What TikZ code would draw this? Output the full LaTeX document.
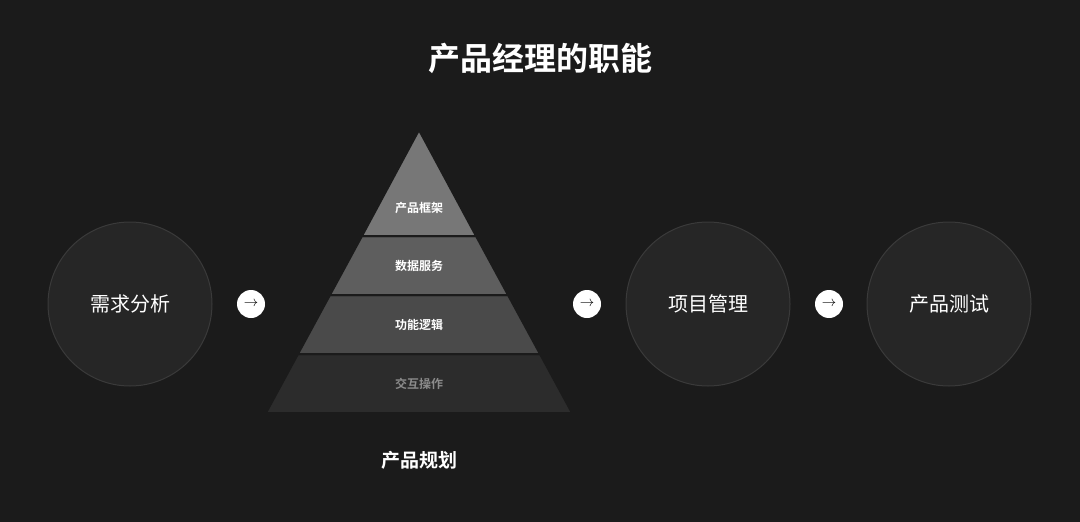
\documentclass[tikz,border=0pt]{standalone}
\usepackage{fontspec}
\setmainfont{Noto Sans CJK SC}
\newfontfamily\cjkbold{Noto Sans CJK SC Bold}
\usetikzlibrary{positioning}
\definecolor{bgdark}{HTML}{1B1B1B}
\definecolor{ringfill}{HTML}{262626}
\definecolor{ringline}{HTML}{3A3A3A}
\definecolor{layerA}{HTML}{777777}
\definecolor{layerB}{HTML}{5E5E5E}
\definecolor{layerC}{HTML}{4A4A4A}
\definecolor{layerD}{HTML}{2C2C2C}
\tikzset{
  stage/.style={circle, minimum size=164pt, inner sep=0pt, fill=ringfill,
    draw=ringline, line width=1pt, text=white, font=\fontsize{20}{24}\selectfont},
  nextdot/.style={circle, minimum size=28pt, inner sep=0pt, fill=white,
    text=black, font=\fontsize{15}{15}\selectfont},
  layertext/.style={text=white, font=\cjkbold\fontsize{12}{14}\selectfont},
  band/.style={draw=bgdark, line width=2pt}
}
\begin{document}
\begin{tikzpicture}[x=1pt, y=-1pt]
  \fill[bgdark] (0,0) rectangle (1080,522);
  \useasboundingbox (0,0) rectangle (1080,522);
  \node[text=white, font=\cjkbold\fontsize{32}{38}\selectfont] (title) at (540,58) {产品经理的职能};
  % circles
  \node[stage] (need) at (130,304) {需求分析};
  \node[stage] (proj) at (708,304) {项目管理};
  \node[stage] (test) at (949,304) {产品测试};
  % pyramid
  \fill[band, fill=layerD] (266,413) -- (298,354) -- (540,354) -- (572,413) -- cycle;
  \fill[band, fill=layerC] (298,354) -- (330,295) -- (508,295) -- (540,354) -- cycle;
  \fill[band, fill=layerB] (330,295) -- (362,236) -- (476,236) -- (508,295) -- cycle;
  \fill[band, fill=layerA] (362,236) -- (419,130) -- (476,236) -- cycle;
  \draw[bgdark, line width=2pt] (298,354) -- (540,354) (330,295) -- (508,295) (362,236) -- (476,236);
  \node[layertext] (frame) at (419,208) {产品框架};
  \node[layertext] (data) at (419,266) {数据服务};
  \node[layertext] (logic) at (419,325) {功能逻辑};
  \node[layertext, text=white!55!black] (ui) at (419,384) {交互操作};
  \node[text=white, font=\cjkbold\fontsize{19}{22}\selectfont] (plan) at (419,460) {产品规划};
  % arrows
  \node[nextdot] (a1) at (251,304) {$\rightarrow$};
  \node[nextdot] (a2) at (587,304) {$\rightarrow$};
  \node[nextdot] (a3) at (829,304) {$\rightarrow$};
\end{tikzpicture}
\end{document}
